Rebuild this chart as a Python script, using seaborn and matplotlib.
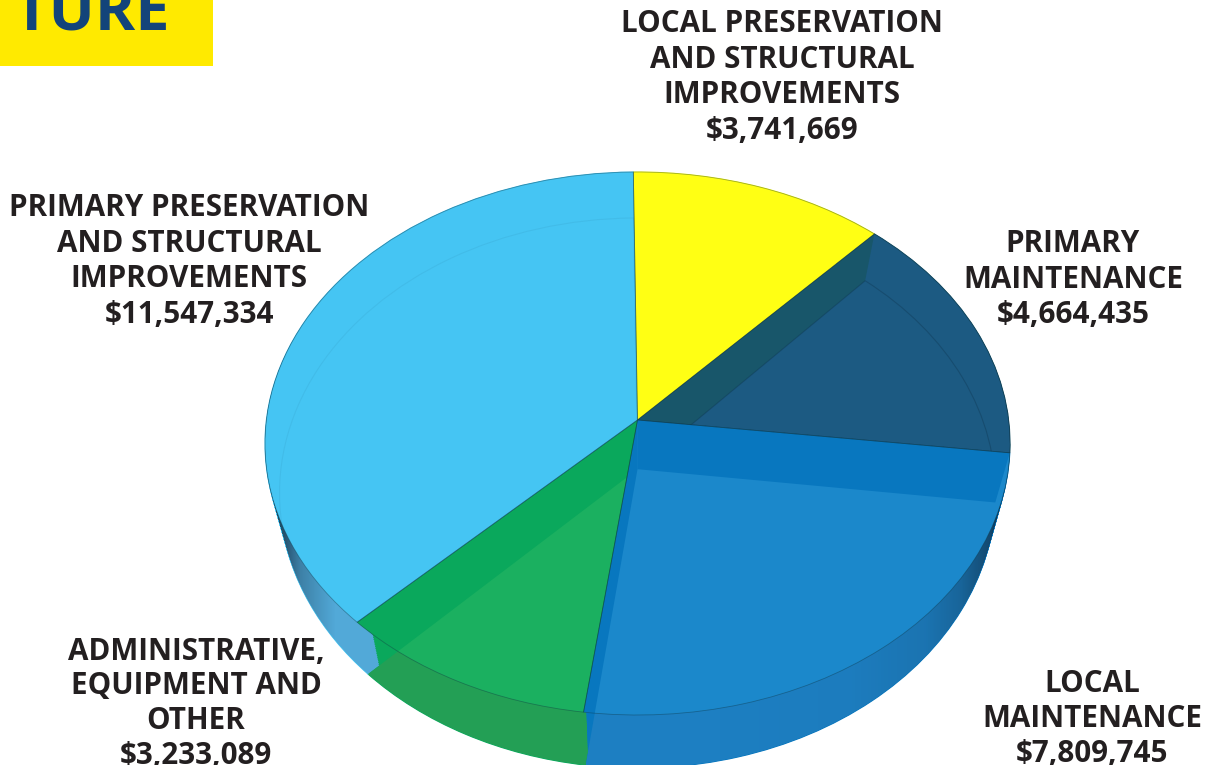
import numpy as np
import matplotlib
matplotlib.use("Agg")
import matplotlib.pyplot as plt
from matplotlib.patches import Rectangle
from matplotlib.path import Path
from matplotlib.transforms import Affine2D, Transform
import seaborn as sns

label_lines = [
    ["LOCAL PRESERVATION", "AND STRUCTURAL", "IMPROVEMENTS"],
    ["PRIMARY", "MAINTENANCE"],
    ["LOCAL", "MAINTENANCE"],
    ["ADMINISTRATIVE,", "EQUIPMENT AND", "OTHER"],
    ["PRIMARY PRESERVATION", "AND STRUCTURAL", "IMPROVEMENTS"],
]
amounts = [3741669, 4664435, 7809745, 3233089, 11547334]

face_colors = ["#FFFF14", "#1C5A82", "#1B88CB", "#1BB060", "#45C5F3"]
wall_colors = ["#FFFF14", "#18566A", "#0877BF", "#0AA85C", "#45C3F0"]
rim_colors = ["#E0E000", "#1C5A82", "#1D7FC2", "#239F55", "#52A9D8"]
inner_line_alpha = [0.0, 0.35, 0.0, 0.0, 0.06]

label_centers = [782, 1073, 1092, 196, 189]
label_baselines = [32.5, 252.5, 691.5, 659.5, 216.5]
label_leading = [35.4, 35.4, 35.2, 34.7, 35.4]

W, H = 1220, 765
CX, CY, RX, RY = 637.5, 443.5, 372.5, 271.5
TILT = 0.0866
START = 90.7
DROP = 49.5 / RY
SHRINK_X, GROW_Y = 0.961, 1.013


class DiskTilt(Transform):
    """Projective map of the unit disk onto itself that moves its centre along y."""
    input_dims = output_dims = 2
    is_separable = False
    has_inverse = False

    def __init__(self, k):
        super().__init__()
        self.k = k

    def transform_non_affine(self, values):
        xy = np.asarray(values, float)
        d = 1 + self.k * xy[:, 1]
        c = np.sqrt(1 - self.k ** 2)
        return np.column_stack([c * xy[:, 0] / d, (xy[:, 1] + self.k) / d])


def layer(t):
    """Affine step from the top face (t=0) to the base of the disc (t=1)."""
    return (Affine2D()
            .scale(1 + (SHRINK_X - 1) * t, 1 + (GROW_Y - 1) * t)
            .translate(0, -DROP * t))


sns.set_theme(style="white")
plt.rcParams["font.family"] = ["Open Sans", "DejaVu Sans"]

fig = plt.figure(figsize=(W / 100, H / 100), dpi=100, facecolor="white")
ax = fig.add_axes([0, 0, 1, 1])
tilt = DiskTilt(TILT)


def draw_pie(colors, t=0.0, width=None, **wedge_kw):
    props = dict(wedge_kw, width=width) if width else wedge_kw
    wedges, _ = ax.pie(amounts, colors=sns.color_palette(colors),
                       startangle=START, counterclock=False,
                       normalize=True, wedgeprops=props)
    for w in wedges:
        w.set_transform(tilt + layer(t) + ax.transData)
    return wedges


# side wall, stacked from the base upwards
wall_steps = np.linspace(1, 0, 30)
for t in wall_steps:
    for w in draw_pie(wall_colors, t=t, linewidth=0.8):
        w.set_edgecolor(w.get_facecolor())

# outer skin of each slice, limited to the extruded band under its own arc
arc_bands = draw_pie(wall_colors, width=0.04)
skins = draw_pie(rim_colors, t=1.0, linewidth=0)
for band, skin in zip(arc_bands, skins):
    band.set_visible(False)
    slab = Path.make_compound_path(*[
        band.get_path().transformed(tilt + layer(t)) for t in wall_steps])
    skin.set_clip_on(True)
    skin.set_clip_path(slab, ax.transData)

# side shading towards both ends of the wall
px = np.arange(W)
shade = np.interp(px, [262, 280, 300, 335, 700, 850, 925, 960, 990, 1008],
                  [0.85, 0.72, 0.30, 0.0, 0.0, 0.03, 0.12, 0.28, 0.58, 0.88])
rgba = np.zeros((1, W, 4))
rgba[0, :, :3] = (0.05, 0.13, 0.2)
rgba[0, :, 3] = shade
extent = [(0 - CX) / RX, (W - CX) / RX, (CY - H) / RY, CY / RY]
img = ax.imshow(rgba, extent=extent, aspect="auto", interpolation="bilinear", zorder=1)
outline = Path.make_compound_path(
    *[Path.unit_circle().transformed(layer(t)) for t in np.linspace(0, 1, 12)])
img.set_clip_path(outline, ax.transData)

# top face, then the inner walls seen along both straight edges of each slice
top = draw_pie(face_colors, linewidth=0)
for w in top:
    w.set_zorder(2)
for w, colour in zip(top, wall_colors):
    for theta in (w.theta1, w.theta2):
        rad = np.deg2rad(theta)
        edge = np.array([[0.0, 0.0], [np.cos(rad), np.sin(rad)]])
        upper = tilt.transform(edge)
        lower = layer(1).transform(upper)
        quad = np.vstack([upper, lower[::-1]])
        wall = ax.fill(quad[:, 0], quad[:, 1], color=colour, linewidth=0, zorder=2.1)[0]
        wall.set_clip_path(w)

inner = draw_pie(face_colors, t=1.0, linewidth=0.8)
for w, clip, a in zip(inner, top, inner_line_alpha):
    w.set_clip_on(True)
    w.set_clip_path(clip)
    w.set_facecolor("none")
    w.set_edgecolor((0.05, 0.2, 0.3, a))
    w.set_zorder(2.2)
outlines = draw_pie(wall_colors, linewidth=0.6, edgecolor=(0.05, 0.2, 0.25, 0.4))
for w in outlines:
    w.set_facecolor("none")
    w.set_zorder(3)

ax.set_aspect("auto")
ax.set_xlim((0 - CX) / RX, (W - CX) / RX)
ax.set_ylim((CY - H) / RY, CY / RY)
ax.axis("off")

for lines, amount, cx, y0, lead in zip(label_lines, amounts, label_centers,
                                       label_baselines, label_leading):
    for i, text in enumerate(lines + [f"${amount:,}"]):
        fig.text(cx / W, 1 - (y0 + i * lead) / H, text, ha="center", va="baseline",
                 fontsize=21.3, fontweight="bold", color="#231F20")

# header tab in the corner
fig.add_artist(Rectangle((0, 1 - 66 / H), 213 / W, 66 / H, transform=fig.transFigure,
                         facecolor="#FFEA00", edgecolor="none"))
fig.text(14 / W, 1 - 30 / H, "TURE", ha="left", va="baseline", fontsize=44,
         fontweight="bold", color="#13447A", zorder=5)

fig.savefig("out.png", dpi=100)
